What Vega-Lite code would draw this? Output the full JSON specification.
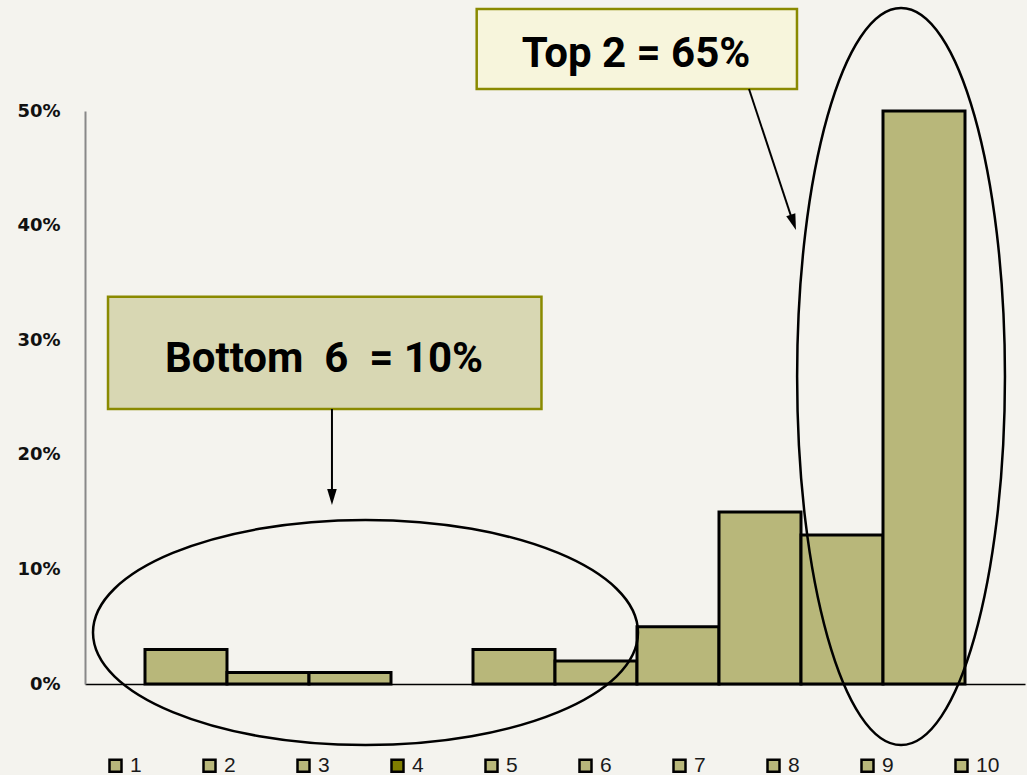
{
  "$schema": "https://vega.github.io/schema/vega-lite/v6.json",
  "width": 940,
  "height": 573,
  "autosize": {"type": "none"},
  "padding": {"left": 85, "top": 111, "right": 2, "bottom": 91},
  "background": "#f4f3ee",
  "config": {
    "view": {"stroke": null},
    "axisY": {"ticks": false, "grid": false, "domainColor": "#888888", "domainWidth": 2, "labelFont": "DejaVu Sans",
      "labelFontWeight": "bold", "labelFontSize": 18, "labelColor": "#111111", "labelPadding": 25}
  },
  "datasets": {
    "bars": [
      {"bucket": 1, "share": 0.03},
      {"bucket": 2, "share": 0.01},
      {"bucket": 3, "share": 0.01},
      {"bucket": 4, "share": 0.0},
      {"bucket": 5, "share": 0.03},
      {"bucket": 6, "share": 0.02},
      {"bucket": 7, "share": 0.05},
      {"bucket": 8, "share": 0.15},
      {"bucket": 9, "share": 0.13},
      {"bucket": 10, "share": 0.5}
    ],
    "boxes": [
      {"kind": "top", "x": 4.545, "x2": 8.451, "y": 0.589, "y2": 0.5192, "tx": 6.488, "ty": 0.5384, "label": "Top 2 = 65%"},
      {"kind": "bottom", "x": 0.049, "x2": 5.335, "y": 0.338, "y2": 0.24, "tx": 2.683, "ty": 0.2723, "label": "Bottom\u00a0 6\u00a0 = 10%"}
    ],
    "ellipseLeft": [{"x": 3.189, "y": 0.0449}],
    "ellipseRight": [{"x": 9.72, "y": 0.2683}],
    "arrows": [
      {"name": "bottom", "x": 2.78, "y": 0.24, "x2": 2.78, "y2": 0.1623},
      {"name": "top", "x": 7.866, "y": 0.5192, "x2": 8.402, "y2": 0.4031}
    ],
    "headBottom": [{"x": 2.78, "y": 0.1632}],
    "headTop": [{"x": 8.407, "y": 0.4028}]
  },
  "resolve": {"scale": {"x": "independent", "color": "independent"}},
  "layer": [
    {
      "data": {"name": "bars"},
      "mark": {"type": "bar", "stroke": "black", "opacity": 1},
      "encoding": {
        "x": {"field": "bucket", "type": "ordinal", "sort": null,
          "scale": {"domain": [1,2,3,4,5,6,7,8,9,10], "paddingInner": 0, "paddingOuter": 0.7317},
          "axis": {"labels": false, "ticks": false, "title": null, "domainColor": "black", "domainWidth": 1.5}},
        "y": {"field": "share", "type": "quantitative",
          "scale": {"domain": [0, 0.5], "nice": false, "zero": true},
          "axis": {"values": [0, 0.1, 0.2, 0.3, 0.4, 0.5], "format": ".0%", "title": null}},
        "color": {"field": "bucket", "type": "ordinal",
          "scale": {"domain": [1,2,3,4,5,6,7,8,9,10],
            "range": ["#b8b77a","#b8b77a","#b8b77a","#7f7d00","#b8b77a","#b8b77a","#b8b77a","#b8b77a","#b8b77a","#b8b77a"]},
          "legend": {"title": null, "orient": "none", "legendX": 20, "legendY": 644, "direction": "horizontal",
            "columns": 10, "gridAlign": "all", "columnPadding": 44, "symbolType": "square", "symbolSize": 144,
            "symbolStrokeColor": "black", "symbolStrokeWidth": 2.5, "symbolOpacity": 1,
            "labelFont": "Liberation Sans", "labelFontSize": 21, "labelColor": "#1a1a1a", "labelOffset": 4}},
        "strokeWidth": {"condition": {"test": "datum.share == 0", "value": 0}, "value": 3}
      }
    },
    {
      "data": {"name": "boxes"},
      "mark": {"type": "rect", "stroke": "#8a8a00", "strokeWidth": 2.5, "opacity": 1},
      "encoding": {
        "x": {"field": "x", "type": "quantitative", "scale": {"domain": [-0.2317, 11.2317], "nice": false, "zero": false}, "axis": null},
        "x2": {"field": "x2"},
        "y": {"field": "y", "type": "quantitative", "scale": {"domain": [0, 0.5], "nice": false},
          "axis": {"values": [0, 0.1, 0.2, 0.3, 0.4, 0.5], "format": ".0%", "title": null}},
        "y2": {"field": "y2"},
        "color": {"field": "kind", "type": "nominal", "scale": {"domain": ["top", "bottom"], "range": ["#f7f5dc", "#d8d7b3"]}, "legend": null}
      }
    },
    {
      "data": {"name": "boxes"},
      "mark": {"type": "text", "font": "Roboto", "fontWeight": "bold", "fontSize": 42, "align": "center", "baseline": "alphabetic", "color": "black"},
      "encoding": {
        "x": {"field": "tx", "type": "quantitative", "scale": {"domain": [-0.2317, 11.2317], "nice": false, "zero": false}, "axis": null},
        "y": {"field": "ty", "type": "quantitative", "scale": {"domain": [0, 0.5], "nice": false},
          "axis": {"values": [0, 0.1, 0.2, 0.3, 0.4, 0.5], "format": ".0%", "title": null}},
        "text": {"field": "label"}
      }
    },
    {
      "data": {"name": "ellipseLeft"},
      "mark": {"type": "point", "shape": "M -1 0 A 1 0.413 0 1 1 1 0 A 1 0.413 0 1 1 -1 0 Z", "size": 297025, "filled": false, "stroke": "black", "strokeWidth": 2.5, "opacity": 1},
      "encoding": {
        "x": {"field": "x", "type": "quantitative", "scale": {"domain": [-0.2317, 11.2317], "nice": false, "zero": false}, "axis": null},
        "y": {"field": "y", "type": "quantitative", "scale": {"domain": [0, 0.5], "nice": false},
          "axis": {"values": [0, 0.1, 0.2, 0.3, 0.4, 0.5], "format": ".0%", "title": null}}
      }
    },
    {
      "data": {"name": "ellipseRight"},
      "mark": {"type": "point", "shape": "M 0 -1 A 0.282 1 0 1 1 0 1 A 0.282 1 0 1 1 0 -1 Z", "size": 543169, "filled": false, "stroke": "black", "strokeWidth": 2.5, "opacity": 1},
      "encoding": {
        "x": {"field": "x", "type": "quantitative", "scale": {"domain": [-0.2317, 11.2317], "nice": false, "zero": false}, "axis": null},
        "y": {"field": "y", "type": "quantitative", "scale": {"domain": [0, 0.5], "nice": false},
          "axis": {"values": [0, 0.1, 0.2, 0.3, 0.4, 0.5], "format": ".0%", "title": null}}
      }
    },
    {
      "data": {"name": "arrows"},
      "mark": {"type": "rule", "stroke": "black", "strokeWidth": 2},
      "encoding": {
        "x": {"field": "x", "type": "quantitative", "scale": {"domain": [-0.2317, 11.2317], "nice": false, "zero": false}, "axis": null},
        "x2": {"field": "x2"},
        "y": {"field": "y", "type": "quantitative", "scale": {"domain": [0, 0.5], "nice": false},
          "axis": {"values": [0, 0.1, 0.2, 0.3, 0.4, 0.5], "format": ".0%", "title": null}},
        "y2": {"field": "y2"}
      }
    },
    {
      "data": {"name": "headBottom"},
      "mark": {"type": "point", "shape": "M -0.6 -1 L 0.6 -1 L 0 1 Z", "size": 256, "filled": true, "color": "black", "opacity": 1},
      "encoding": {
        "x": {"field": "x", "type": "quantitative", "scale": {"domain": [-0.2317, 11.2317], "nice": false, "zero": false}, "axis": null},
        "y": {"field": "y", "type": "quantitative", "scale": {"domain": [0, 0.5], "nice": false},
          "axis": {"values": [0, 0.1, 0.2, 0.3, 0.4, 0.5], "format": ".0%", "title": null}}
      }
    },
    {
      "data": {"name": "headTop"},
      "mark": {"type": "point", "shape": "M -0.6 -1 L 0.6 -1 L 0 1 Z", "size": 256, "filled": true, "color": "black", "opacity": 1, "angle": -18.8},
      "encoding": {
        "x": {"field": "x", "type": "quantitative", "scale": {"domain": [-0.2317, 11.2317], "nice": false, "zero": false}, "axis": null},
        "y": {"field": "y", "type": "quantitative", "scale": {"domain": [0, 0.5], "nice": false},
          "axis": {"values": [0, 0.1, 0.2, 0.3, 0.4, 0.5], "format": ".0%", "title": null}}
      }
    }
  ]
}
